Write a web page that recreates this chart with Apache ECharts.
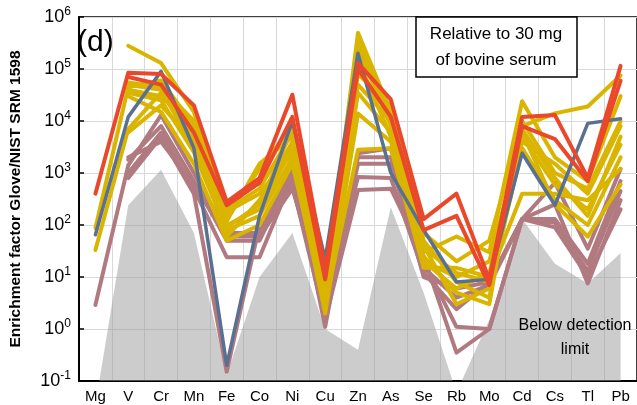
<!DOCTYPE html>
<html>
<head>
<meta charset="utf-8">
<script src="https://cdn.jsdelivr.net/npm/echarts@6/dist/echarts.min.js"></script>
<style>
html,body{margin:0;padding:0;background:#fff;}
#chart{width:637px;height:405px;}
</style>
</head>
<body>
<div id="chart"></div>
<script>
const categories = ['Mg','V','Cr','Mn','Fe','Co','Ni','Cu','Zn','As','Se','Rb','Mo','Cd','Cs','Tl','Pb'];

const detectionLimit = [0.035, 240, 1150, 70, 0.13, 10, 70, 1.0, 0.4, 220, 5, 0.06, 1.5, 130, 18, 7.5, 29];

const red1 = [400, 8.5e4, 8e4, 2e4, 280, 800, 3.2e4, 14, 1.3e5, 2.6e4, 130, 400, 9, 1.2e4, 1.3e4, 800, 1.15e5];
const red2 = [null, 7e4, 5e4, 6e3, 240, 650, 1.2e4, 9, 1e5, 1.2e4, 80, 150, 7, 8e3, 4.5e3, 700, 6e4];

const blue1 = [65, 1.2e4, 9e4, 3e3, 0.2, 150, 1e4, 22, 2e5, 1e3, 80, 8, 9, 2.4e3, 240, 9e3, 1.1e4];

const yellow1 = [null, 2.8e5, 1.3e5, 1.5e4, 150, 1.2e3, 8e3, 5, 5e5, 1.5e4, 30, 60, 30, 2.4e4, 2e3, 700, 3e4];
const yellow2 = [87, 4.5e4, 6e4, 8e3, 120, 1.5e3, 5e3, 6, 2.5e5, 8e3, 70, 20, 50, 8e3, 1.4e4, 1.9e4, 7.5e4];
const yellow3 = [33, 7e3, 3.5e4, 5e3, 60, 300, 4e3, 4, 1.5e5, 5e3, 25, 5, 3, 1e4, 1e3, 500, 1e4];
const yellow4 = [null, 5e4, 4e4, 3e3, 100, 200, 3e3, 3, 3.5e4, 6e3, 20, 10, 20, 5e3, 600, 200, 3.5e3];
const yellow5 = [null, 3.5e4, 2.5e4, 2.5e3, 80, 150, 2e3, 2, 1.4e4, 4e3, 40, 3, 6, 3e3, 300, 100, 2e3];
const yellow6 = [null, 3e4, 1.5e4, 1.5e3, 50, 100, 1.5e3, 3, 2.8e3, 3e3, 15, 15, 10, 400, 400, 300, 1.2e3];
const yellow7 = [null, 6e3, 2e4, 4e3, 200, 500, 6e3, 5, 8e4, 2e4, 50, 8, 4, 7e3, 800, 150, 5e3];
const yellow8 = [null, 4e4, 3e4, 7e3, 180, 400, 2.5e3, 7, 5e4, 1e4, 20, 6, 12, 4e3, 1.5e3, 400, 8e3];
const yellow9 = [null, 5.5e4, 4.5e4, 1e4, 90, 250, 7e3, 4, 3.5e5, 1.2e4, 35, 12, 8, 6e3, 250, 60, 600];

const mauve1 = [2.9, 1.4e3, 1.3e4, 1e3, 70, 70, 1.3e3, 1.1, 2.4e3, 3e3, 20, 1.1, 1, 130, 650, 35, 1.2e3];
const mauve2 = [null, 1.8e3, 8e3, 700, 50, 50, 1e3, 2, 1.5e3, 1.5e3, 15, 4, 7, 130, 130, 18, 700];
const mauve3 = [null, 1e3, 6e3, 500, 24, 24, 800, 3, 840, 800, 12, 2.4, 8, 130, 110, 13, 450];
const mauve4 = [null, 800, 5e3, 400, 0.15, 100, 600, 1.5, 470, 500, 25, 0.35, 1, 130, 250, 7.5, 300];
const mauve5 = [null, 2e3, 4e3, 600, 60, 60, 500, 4, 2e3, 2e3, 10, 6, 8, 130, 90, 10, 200];

const RED = '#E9482B', BLUE = '#5B7090', YELLOW = '#D9B500', MAUVE = '#B07A80';

function lineSeries(data, color, width, z) {
  return {
    type: 'line', data: data, symbol: 'none', connectNulls: false, z: z,
    lineStyle: {color: color, width: width, cap: 'round', join: 'round'},
    itemStyle: {color: color}, silent: true, animation: false
  };
}

const series = [
  {
    type: 'line', data: detectionLimit, symbol: 'none', z: 1, silent: true, animation: false,
    lineStyle: {width: 0}, itemStyle: {color: '#999'},
    areaStyle: {color: '#999999', opacity: 0.5, origin: 'start'}
  }
];
[mauve1, mauve2, mauve3, mauve4, mauve5].forEach(d => series.push(lineSeries(d, MAUVE, 4, 3)));
[yellow1, yellow2, yellow3, yellow4, yellow5, yellow6, yellow7, yellow8, yellow9].forEach(d => series.push(lineSeries(d, YELLOW, 4, 4)));
series.push(lineSeries(blue1, BLUE, 3.5, 5));
[red1, red2].forEach(d => series.push(lineSeries(d, RED, 4, 6)));

const chart = echarts.init(document.getElementById('chart'), null, {renderer: 'canvas'});
chart.setOption({
  animation: false,
  backgroundColor: '#fff',
  grid: {left: 74, top: 17, width: 568, height: 364, show: true, borderColor: '#000', borderWidth: 1.5, backgroundColor: 'transparent'},
  xAxis: {
    type: 'category', data: categories, boundaryGap: true,
    axisLine: {lineStyle: {color: '#000', width: 2}},
    axisTick: {inside: true, length: 6, lineStyle: {color: '#000', width: 1.5}},
    axisLabel: {color: '#000', fontSize: 15, fontFamily: 'Liberation Sans', margin: 8, interval: 0},
    splitLine: {show: true, lineStyle: {color: '#D9D9D9', width: 1}}
  },
  yAxis: {
    type: 'log', logBase: 10, min: 0.1, max: 1e6,
    name: 'Enrichment factor Glove/NIST SRM 1598', nameLocation: 'middle', nameGap: 55,
    nameTextStyle: {color: '#000', fontSize: 15.5, fontWeight: 'bold', fontFamily: 'Liberation Sans'},
    axisLine: {show: true, lineStyle: {color: '#000', width: 2}},
    axisTick: {show: true, inside: true, length: 5, lineStyle: {color: '#000', width: 1.5}},
    minorTick: {show: false},
    axisLabel: {
      margin: 8,
      formatter: function (v) {
        const e = Math.round(Math.log10(v));
        return '{b|10}{s|' + e + '}';
      },
      rich: {
        b: {fontSize: 18, color: '#000', fontFamily: 'Liberation Sans'},
        s: {fontSize: 12, color: '#000', fontFamily: 'Liberation Sans', padding: [0, 0, 10, 0]}
      }
    },
    splitLine: {show: true, lineStyle: {color: '#D9D9D9', width: 1}}
  },
  series: series,
  graphic: [
    {type: 'text', left: 77, top: 28, z: 100, style: {text: '(d)', fontSize: 30, fontFamily: 'Liberation Sans', fill: '#000'}},
    {type: 'rect', shape: {x: 416, y: 17, width: 161, height: 60}, z: 100, style: {fill: '#fff', stroke: '#000', lineWidth: 1.5}},
    {type: 'text', x: 496, y: 47, z: 101, style: {text: 'Relative to 30 mg\nof bovine serum', fontSize: 17, lineHeight: 26, fontFamily: 'Liberation Sans', fill: '#000', align: 'center', verticalAlign: 'middle'}},
    {type: 'text', x: 575, y: 338, z: 101, style: {text: 'Below detection\nlimit', fontSize: 16, lineHeight: 24, fontFamily: 'Liberation Sans', fill: '#000', align: 'center', verticalAlign: 'middle'}}
  ]
});
</script>
</body>
</html>
